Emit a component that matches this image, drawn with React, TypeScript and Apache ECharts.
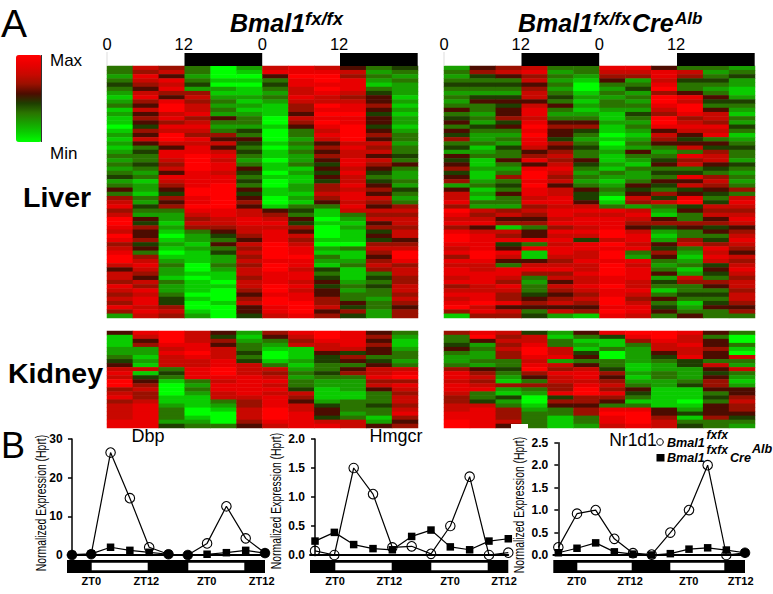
import React, { useEffect, useRef } from "react";
import * as echarts from "echarts";

// Heat values per time column: 0 = min (green), 4.5 = black, 9 = max (red). Rows run top to bottom.
const liverControl = [
  [3,3,2,3,4,3,2,1,2,3,1,2,1,1,0,1,2,1,2,1,2,3,2,3,2,3,4,2,3,5,3,6,7,8,6,7,9,9,8,7,9,8,6,7,8,9,9,7,5,7,7,6,8,7,6,7,6,8,6,2],
  [7,6,8,7,6,5,7,8,6,5,7,5,6,5,4,6,5,7,5,3,4,3,3,4,3,2,3,1,2,2,1,3,2,4,3,2,5,4,6,5,5,6,4,5,3,6,7,8,7,6,5,7,6,8,7,8,8,7,8,7],
  [6,7,5,8,7,8,6,5,8,9,9,7,8,6,8,7,9,9,7,5,8,8,7,6,7,5,8,7,6,5,4,6,5,6,3,2,2,1,2,1,0,1,2,1,0,1,2,3,2,2,1,3,2,2,3,4,4,6,7,6],
  [3,3,2,3,4,2,6,7,6,7,7,8,6,7,8,7,6,8,7,8,8,9,9,9,9,8,8,8,8,9,9,8,8,9,8,7,6,7,6,3,2,2,1,2,1,1,1,0,0,1,0,1,1,1,0,1,0,0,1,2],
  [0,0,0,1,0,2,1,2,3,2,3,2,5,3,2,3,6,5,7,5,7,8,7,8,8,7,8,8,9,9,9,9,9,9,8,8,7,7,6,5,4,3,5,3,4,2,2,3,2,1,1,0,1,0,0,0,1,0,0,0],
  [2,1,0,1,0,1,1,2,1,2,1,2,3,3,2,4,3,5,4,3,4,3,2,3,5,4,3,4,3,5,4,5,6,5,7,7,8,8,7,7,6,5,7,6,7,6,7,6,7,7,6,7,7,6,5,6,7,5,5,4],
  [7,8,5,3,4,3,2,3,2,1,1,1,0,0,1,0,0,0,1,0,1,1,0,1,1,0,1,0,0,1,1,0,0,1,5,6,7,8,7,8,8,8,9,9,9,9,8,9,9,8,8,8,9,9,8,9,9,8,8,7],
  [8,8,9,8,8,7,7,8,7,6,6,5,7,6,5,3,3,2,3,2,3,2,2,3,1,2,1,1,2,2,1,2,1,3,4,3,5,4,6,5,7,6,7,8,8,9,8,8,7,8,8,7,8,7,8,8,9,9,9,8],
  [7,8,9,9,8,9,8,7,7,9,8,9,8,9,8,7,8,7,5,6,5,6,5,4,5,4,5,4,6,6,7,6,5,3,1,1,0,1,0,0,0,1,0,2,1,3,2,1,4,3,4,5,4,5,5,6,6,7,5,6],
  [5,7,6,8,8,8,7,6,7,8,8,9,8,8,9,9,9,9,7,8,7,7,8,8,7,8,7,7,8,7,8,8,7,8,7,3,2,1,2,1,1,1,0,3,1,1,2,3,1,1,1,2,3,2,3,3,5,4,6,4],
  [3,2,3,2,1,3,4,5,5,6,5,4,5,5,4,5,6,5,7,6,7,5,7,6,5,4,3,4,5,6,5,7,6,5,7,6,7,5,6,4,5,4,6,7,6,5,6,7,6,3,4,3,4,3,3,2,3,3,2,2],
  [4,3,2,3,2,2,2,1,2,1,2,1,2,2,1,2,3,3,2,3,3,4,3,5,3,2,2,3,2,4,3,2,3,6,7,6,7,7,6,7,7,5,6,7,9,9,8,6,7,7,6,6,7,7,6,7,6,5,6,6],
];
const liverKnockout = [
  [2,3,2,3,4,3,2,3,2,3,5,3,4,5,3,5,4,6,3,4,2,5,4,5,6,4,5,6,2,5,7,7,8,6,9,8,7,8,6,8,9,9,8,7,8,6,8,7,8,8,7,8,6,7,8,7,8,9,6,1],
  [5,6,4,3,4,3,2,4,5,3,3,2,3,2,4,3,2,2,3,1,2,3,1,1,2,1,1,2,3,1,2,1,3,2,7,6,7,8,5,7,8,8,8,8,9,9,8,7,7,8,8,8,7,7,8,8,9,7,8,6],
  [6,7,5,3,4,3,2,4,5,4,5,5,6,4,5,3,2,3,2,4,3,3,5,3,2,3,6,3,4,3,5,3,3,2,6,7,5,6,1,7,6,8,4,5,8,7,5,3,8,8,7,6,8,7,6,6,8,5,7,6],
  [7,8,6,7,5,6,7,7,5,7,8,8,7,8,9,8,9,8,8,7,5,6,8,5,8,9,9,8,9,8,8,7,8,6,7,6,5,6,3,5,5,8,3,8,1,1,5,7,8,6,3,2,3,3,4,5,6,5,3,4],
  [3,2,3,2,3,2,3,4,3,5,3,2,3,5,6,5,5,4,6,5,6,7,6,7,8,7,6,7,5,7,7,8,8,7,8,8,7,8,6,8,7,8,7,8,8,7,6,7,8,6,7,5,7,6,5,6,7,5,7,2],
  [3,3,2,1,0,0,1,2,1,2,1,2,3,5,6,4,3,2,3,4,3,3,5,4,3,2,3,2,3,5,4,4,5,7,8,7,8,8,7,8,7,4,8,8,7,7,8,7,7,8,7,7,8,7,6,7,6,5,6,1],
  [8,7,6,5,3,2,3,2,3,3,2,1,1,2,1,1,0,1,0,1,2,1,1,2,1,3,2,1,2,3,2,0,1,3,8,7,8,8,8,9,9,7,9,8,9,9,8,9,9,9,8,8,9,8,8,9,9,8,9,8],
  [8,7,6,2,3,4,2,3,2,3,2,4,3,2,3,2,1,2,3,2,5,3,2,1,3,2,2,3,5,4,5,7,6,2,7,8,7,6,5,7,8,8,7,8,3,2,8,7,8,8,8,7,7,8,7,6,7,8,8,7],
  [5,8,8,7,8,9,6,9,9,8,7,6,9,9,8,5,7,6,5,3,2,3,4,5,3,4,3,5,4,3,6,4,7,3,2,1,5,6,4,2,1,2,5,4,6,5,3,2,3,5,2,4,3,1,3,5,3,4,5,3],
  [3,7,6,4,3,3,5,8,7,9,9,8,6,7,8,7,5,4,5,7,3,8,6,7,3,4,8,5,7,4,5,8,9,4,5,3,3,6,5,3,3,6,7,3,2,1,2,3,1,2,7,6,3,3,4,3,1,2,3,5],
  [3,2,3,4,3,2,3,5,4,3,5,7,7,6,8,7,8,3,5,4,6,7,7,5,4,3,6,7,6,5,4,3,4,7,6,7,5,6,4,5,3,4,6,8,7,8,7,4,5,4,3,6,5,3,4,3,4,5,3,3],
  [2,3,4,2,2,1,1,2,4,3,2,1,3,2,4,3,1,2,3,4,3,3,2,4,3,2,3,2,3,6,3,7,8,7,6,7,8,7,5,6,7,8,7,6,5,7,6,7,8,7,6,7,7,6,7,7,6,5,6,3],
];
const kidneyControl = [
  [5,1,1,1,2,2,3,4,5,7,8,7,9,9,6,7,8,6,7,7,7,7,8,8],
  [8,7,5,6,2,2,1,2,1,7,1,4,5,6,7,6,6,7,8,8,8,8,8,8],
  [9,9,9,8,7,8,7,7,7,3,4,3,1,0,0,0,1,1,2,3,3,3,2,4],
  [7,7,7,8,8,9,8,7,7,8,8,8,3,2,3,2,1,1,1,0,0,1,2,3],
  [5,4,6,5,7,7,7,8,8,9,9,8,7,8,8,7,7,3,2,1,0,0,0,3],
  [2,1,2,3,3,4,3,4,7,7,7,8,8,8,8,8,7,6,6,7,7,7,6,5],
  [6,5,3,2,1,0,0,1,3,7,6,7,8,7,8,7,8,8,8,9,9,9,8,7],
  [8,7,6,7,1,1,1,2,1,2,3,2,3,3,4,7,6,5,7,7,8,8,8,8],
  [9,9,8,7,7,5,4,4,3,3,4,3,2,2,1,1,1,2,4,5,5,4,7,8],
  [8,8,8,8,7,4,6,5,3,5,6,3,2,2,2,1,1,3,3,3,2,3,7,7],
  [5,6,5,6,5,5,3,4,5,7,7,8,6,7,5,3,3,3,4,3,3,1,2,5],
  [3,2,1,1,2,3,3,2,3,7,8,9,6,8,7,6,7,7,6,7,8,6,5,6],
];
const kidneyKnockout = [
  [6,3,3,4,5,3,2,2,3,6,8,8,7,8,8,7,6,6,7,7,8,8,9,9],
  [8,9,5,2,3,2,2,3,2,5,6,7,6,7,8,3,3,4,7,8,8,8,8,8],
  [7,6,7,6,7,6,6,3,3,4,3,2,1,6,2,1,4,2,3,6,6,6,7,5],
  [4,7,7,8,9,9,8,7,8,9,6,5,3,6,3,2,0,0,1,2,3,3,3,3],
  [2,1,3,3,7,7,8,2,7,6,8,7,7,6,6,8,4,6,5,3,3,1,1,1],
  [5,3,1,2,1,4,5,3,5,7,8,8,7,8,9,9,6,6,5,6,6,3,3,2],
  [8,4,1,1,3,0,0,3,3,4,6,5,6,7,6,8,6,5,3,8,9,8,8,7],
  [9,8,6,3,2,2,2,2,1,1,2,1,2,3,5,4,3,1,3,8,9,9,9,8],
  [9,9,8,7,7,5,4,3,2,2,3,3,2,2,1,1,1,1,1,5,5,6,7,7],
  [8,7,7,8,7,7,8,4,4,2,2,2,3,4,1,1,1,0,1,2,4,1,3,4],
  [5,3,5,5,6,5,5,3,7,5,4,5,6,6,5,3,4,3,5,5,5,6,3,3],
  [3,0,0,3,1,0,7,3,2,7,3,2,1,2,5,5,6,7,6,6,5,4,3,2],
];

// Colour ramp, one stop for each heat value 0..9.
const heatRamp = ["#00ff00","#0acc00","#18a000","#2a7400","#1e3e00","#4c0c00","#9a1000","#c80800","#e80000","#ff0000"];

// Qualitative PCR time courses (11 sampling points).
const samplePoints = [0,1,2,3,4,5,6,7,8,9,10];
const dbpControl = [0,0.2,26.5,14.7,2,0.2,0,3,12.6,4.3,0.5];
const dbpKnockout = [0.1,0.3,2,1.2,0.7,0.2,0,0.2,0.6,1.2,0.5];
const dbpOverlaps = [0,1,5,6,10];
const hmgcrControl = [0.07,0,1.5,1.05,0.13,0.15,0.02,0.5,1.35,0,0.04];
const hmgcrKnockout = [0.24,0.39,0.18,0.11,0.09,0.32,0.43,0.14,0.09,0.24,0.28];
const hmgcrOverlaps: number[] = [];
const nr1d1Control = [0.17,0.92,1,0.36,0.04,0.01,0.5,1,2,0,0.05];
const nr1d1Knockout = [0.05,0.15,0.27,0.07,0.02,0,0.03,0.13,0.16,0.11,0.05];
const nr1d1Overlaps = [10];

const clockTicks = ["0", "12", "0", "12"];
const FONT = "Liberation Sans";

const heatGrid = (left: number, top: number, width: number, height: number) => ({ left, top, width, height });
const heatCells = (cols: number[][]) =>
  cols.flatMap((col, x) => col.map((v, y) => [x, y, v]));

function txt(text: string, x: number, y: number, fontSize: number, extra: any = {}) {
  return {
    type: "text", x, y, z: 20,
    scaleX: extra.scaleX ?? 1,
    scaleY: extra.scaleY ?? 1,
    style: {
      text, fontSize, fontFamily: FONT, fill: "#000",
      fontWeight: extra.bold ? "bold" : "normal",
      fontStyle: extra.italic ? "italic" : "normal",
      textAlign: extra.align ?? "left", textVerticalAlign: "middle", verticalAlign: "middle",
    },
    rotation: extra.rotation ?? 0,
  };
}
const box = (x: number, y: number, w: number, h: number, fill: string) => ({
  type: "rect", z: 20, shape: { x, y, width: w, height: h }, style: { fill },
});

export default function App() {
  const ref = useRef<HTMLDivElement>(null);
  useEffect(() => {
    document.body.style.margin = "0";
    document.body.style.background = "#fff";
    const chart = echarts.init(ref.current!, null, { renderer: "svg" });

    const heatPanels = [
      { cols: liverControl, g: heatGrid(107, 66, 311, 252) },
      { cols: kidneyControl, g: heatGrid(107, 331, 311, 97) },
      { cols: liverKnockout, g: heatGrid(444, 66, 311, 252) },
      { cols: kidneyKnockout, g: heatGrid(444, 331, 311, 97) },
    ];
    const linePanels = [
      { a: dbpControl, b: dbpKnockout, over: dbpOverlaps, left: 67.7, width: 197.3, top: 439, height: 116, xMin: -0.22, max: 30, step: 10, dec: 0 },
      { a: hmgcrControl, b: hmgcrKnockout, over: hmgcrOverlaps, left: 310, width: 198.3, top: 439, height: 116, xMin: -0.26, max: 2, step: 0.5, dec: 1 },
      { a: nr1d1Control, b: nr1d1Knockout, over: nr1d1Overlaps, left: 553.3, width: 191.7, top: 442.7, height: 112.3, xMin: -0.27, max: 2.5, step: 0.5, dec: 1 },
    ];

    const grids: any[] = heatPanels.map((p) => p.g);
    const xAxes: any[] = heatPanels.map((p, i) => ({
      type: "category", gridIndex: i, show: false, data: p.cols.map((_, k) => String(k)),
    }));
    const yAxes: any[] = heatPanels.map((p, i) => ({
      type: "category", gridIndex: i, show: false, inverse: true, data: p.cols[0].map((_, k) => String(k)),
    }));
    const series: any[] = heatPanels.map((p, i) => ({
      type: "heatmap", xAxisIndex: i, yAxisIndex: i, data: heatCells(p.cols), progressive: 0,
      itemStyle: { borderWidth: 0 }, emphasis: { disabled: true },
    }));

    linePanels.forEach((p, k) => {
      const i = k + 4;
      grids.push({ left: p.left, top: p.top, width: p.width, height: p.height });
      xAxes.push({
        type: "value", gridIndex: i, min: p.xMin, max: 10, show: true, splitLine: { show: false },
        axisLabel: { show: false }, axisTick: { show: false },
        axisLine: { show: true, onZero: false, lineStyle: { color: "#000", width: 1.8 } },
      });
      yAxes.push({
        type: "value", gridIndex: i, min: 0, max: p.max, interval: p.step, splitLine: { show: false },
        axisLine: { show: true, lineStyle: { color: "#000", width: 1.5 } },
        axisTick: { show: true, length: 4, lineStyle: { color: "#000", width: 1.5 } },
        axisLabel: {
          color: "#000", fontFamily: FONT, fontWeight: "bold", fontSize: 12, margin: 5,
          formatter: (v: number) => v.toFixed(p.dec),
        },
      });
      series.push({
        type: "line", xAxisIndex: i, yAxisIndex: i, clip: false, z: 3,
        data: samplePoints.map((x) => [x, p.b[x]]),
        symbol: "rect", symbolSize: 7.5,
        lineStyle: { color: "#000", width: 1.2 }, itemStyle: { color: "#000" },
      });
      series.push({
        type: "line", xAxisIndex: i, yAxisIndex: i, clip: false, z: 4,
        data: samplePoints.map((x) => ({
          value: [x, p.a[x]],
          itemStyle: p.over.includes(x)
            ? { color: "#000", borderColor: "#000", borderWidth: 1 }
            : { color: "rgba(255,255,255,0)", borderColor: "#000", borderWidth: 1.1 },
        })),
        symbol: "circle", symbolSize: 9.5,
        lineStyle: { color: "#000", width: 1.2 },
      });
    });

    const nameStyle = { align: "center", rotation: Math.PI / 2, scaleX: 0.84, scaleY: 1.15 };
    const graphics: any[] = [
      txt("A", 1, 23, 39),
      txt("B", 1, 445, 36),
      txt("Max", 50, 60, 17),
      txt("Min", 50, 153, 17),
      txt("Liver", 23, 197, 28.5, { bold: true }),
      txt("Kidney", 8, 373, 28.5, { bold: true }),
      box(41, 55, 1, 87, "#333"),

      txt("Bmal1", 230, 22.5, 25, { bold: true, italic: true }),
      txt("fx/fx", 305, 18, 18.5, { bold: true, italic: true }),
      txt("Bmal1", 518, 22.5, 25, { bold: true, italic: true }),
      txt("fx/fx", 593, 18, 18.5, { bold: true, italic: true }),
      txt("Cre", 632, 22.5, 25, { bold: true, italic: true }),
      txt("Alb", 675, 18, 17, { bold: true, italic: true }),

      txt("Dbp", 148, 436, 18, { align: "center" }),
      txt("Hmgcr", 396, 436, 18, { align: "center" }),
      txt("Nr1d1", 633, 440, 17.5, { align: "center" }),

      txt("Normalized Expression (Hprt)", 41, 503, 12.4, nameStyle),
      txt("Normalized Expression (Hprt)", 276, 501, 12.4, nameStyle),
      txt("Normalized Expression (Hprt)", 519, 505, 12.4, nameStyle),

      { type: "circle", z: 20, shape: { cx: 660, cy: 442, r: 3.3 }, style: { fill: "#fff", stroke: "#000", lineWidth: 1 } },
      box(656.5, 454, 8, 7.5, "#000"),
      txt("Bmal1", 667, 443, 12.6, { bold: true, italic: true }),
      txt("fxfx", 706.5, 435, 12, { bold: true, italic: true }),
      txt("Bmal1", 667, 458, 12.6, { bold: true, italic: true }),
      txt("fxfx", 706.5, 450, 12, { bold: true, italic: true }),
      txt("Cre", 730, 458, 12.6, { bold: true, italic: true }),
      txt("Alb", 752, 449, 12.6, { bold: true, italic: true }),

      box(511, 424, 17, 6, "#fff"),
    ];

    // Clock ticks and dark-phase bars above each heatmap.
    [107, 444].forEach((x0) => {
      clockTicks.forEach((t, i) => {
        graphics.push(txt(t, x0 + i * 77.7 - (i === 1 || i === 3 ? 1 : 0), 43.5, 16.5, { align: "center" }));
      });
      graphics.push(box(x0 - 0.5, 52, 1, 14, "#ddd"));
      graphics.push(box(x0 + 77.5, 53, 77.7, 13, "#000"));
      graphics.push(box(x0 + 233, 53, 77.7, 13, "#000"));
    });

    // Light/dark bars and ZT labels below the line plots.
    const zt = ["ZT0", "ZT12", "ZT0", "ZT12"];
    [
      { x: 67, w: 198, lights: [[91.7, 56], [188.3, 56]], labels: [91.3, 146.3, 206.7, 261.7] },
      { x: 310, w: 198.3, lights: [[335.3, 56.4], [431.3, 56.4]], labels: [335, 389.3, 450, 504] },
      { x: 553.3, w: 191.7, lights: [[577.3, 54.4], [670.3, 54]], labels: [576.7, 630, 688.7, 740.7] },
    ].forEach((b) => {
      graphics.push(box(b.x, 560, b.w, 13, "#000"));
      b.lights.forEach(([x, w]) => graphics.push(box(x, 562.7, w, 7.5, "#fff")));
      b.labels.forEach((x, i) => graphics.push(txt(zt[i], x, 581, 11, { bold: true, align: "center" })));
    });

    chart.setOption({
      animation: false,
      backgroundColor: "#fff",
      textStyle: { fontFamily: FONT },
      grid: grids,
      xAxis: xAxes,
      yAxis: yAxes,
      visualMap: {
        type: "continuous", min: 0, max: 9, seriesIndex: [0, 1, 2, 3], dimension: 2,
        inRange: { color: heatRamp },
        left: 16, top: 55, itemWidth: 26, itemHeight: 87, padding: 0,
        calculable: false, realtime: false, hoverLink: false, showLabel: false, text: null,
      },
      graphic: graphics,
      series,
    });
    return () => chart.dispose();
  }, []);
  return <div ref={ref} style={{ position: "absolute", left: 0, top: 0, width: 773, height: 594 }} />;
}
